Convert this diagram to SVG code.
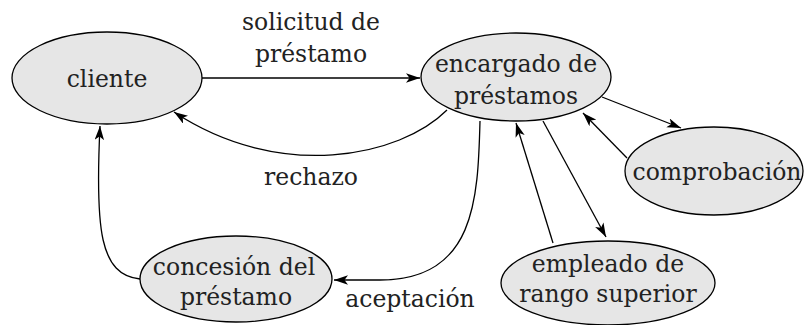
<svg xmlns="http://www.w3.org/2000/svg" width="805" height="325" viewBox="0 0 805 325">
<style>
  .node ellipse { fill: #e6e6e6; stroke: #000; stroke-width: 1.3; }
  text { font-family: "DejaVu Serif", "Liberation Serif", serif; font-size: 23.5px; fill: #222; text-anchor: middle; }
  .edge { fill: none; stroke: #000; stroke-width: 1.3; marker-end: url(#arr); }
</style>
<defs>
  <marker id="arr" markerUnits="userSpaceOnUse" markerWidth="15" markerHeight="10" refX="14" refY="4.75" orient="auto">
    <path d="M0,0 L14,4.75 L0,9.5 L3.5,4.75 z" fill="#000"/>
  </marker>
</defs>
<g id="connectors">
  <path class="edge" d="M202,78 L420,78"/>
  <path class="edge" d="M447,110 C400,157 280,182 174,112"/>
  <path class="edge" d="M480,121 C478,200 475,280 380,280 L334,280"/>
  <path class="edge" d="M140,279 C100,275 95,230 100,126"/>
  <path class="edge" d="M553,243 L516,123"/>
  <path class="edge" d="M543,121 L606,237"/>
  <path class="edge" d="M602,97 L681,128"/>
  <path class="edge" d="M627,158 L583,113"/>
</g>
<g id="edge-labels">
  <text x="311" y="30">solicitud de</text>
  <text x="311" y="62">préstamo</text>
  <text x="311" y="185">rechazo</text>
  <text x="410" y="307">aceptación</text>
</g>
<g id="cliente" class="node">
  <ellipse cx="107" cy="78" rx="95" ry="46"/>
  <text x="107" y="87">cliente</text>
</g>
<g id="encargado" class="node">
  <ellipse cx="516" cy="77" rx="95" ry="44"/>
  <text x="516" y="72">encargado de</text>
  <text x="516" y="104">préstamos</text>
</g>
<g id="comprobacion" class="node">
  <ellipse cx="714" cy="171" rx="89" ry="44"/>
  <text x="717" y="180">comprobación</text>
</g>
<g id="empleado" class="node">
  <ellipse cx="608" cy="283" rx="107" ry="42"/>
  <text x="608" y="272">empleado de</text>
  <text x="608" y="302">rango superior</text>
</g>
<g id="concesion" class="node">
  <ellipse cx="236" cy="279" rx="96" ry="43"/>
  <text x="234" y="275">concesión del</text>
  <text x="236" y="305">préstamo</text>
</g>
</svg>
